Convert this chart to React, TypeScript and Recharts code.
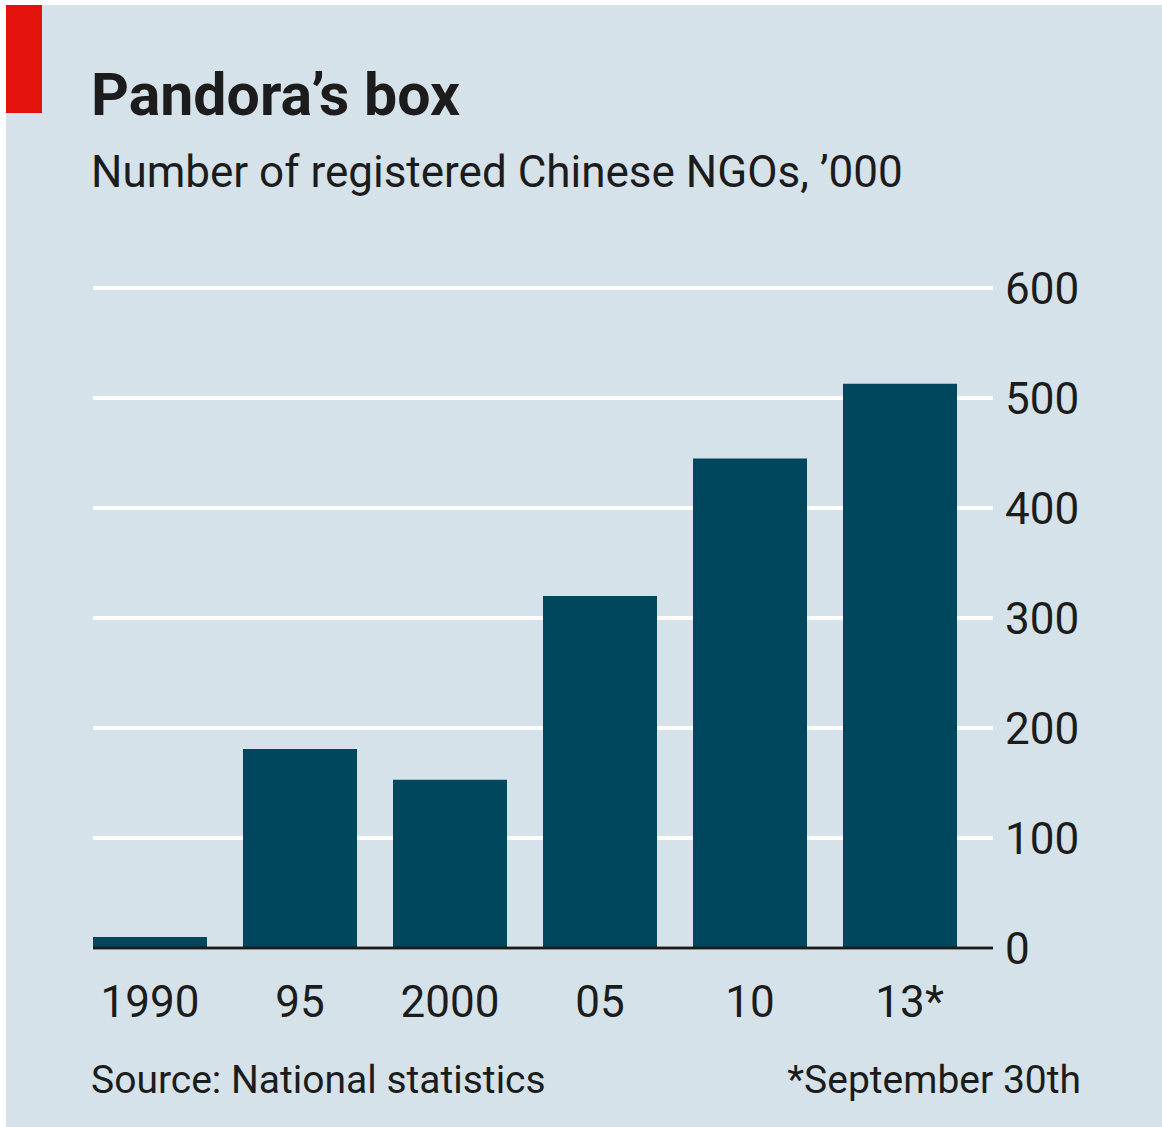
import { BarChart, Bar, XAxis, YAxis, CartesianGrid } from 'recharts'

const years = ['1990', '95', '2000', '05', '10', '13*']
const ngos = [10, 181, 153, 320, 445, 513]
const yTicks = [0, 100, 200, 300, 400, 500, 600]

const data = years.map((year, i) => ({ year, ngos: ngos[i] }))

const BG = '#d5e2e9'
const BAR = '#00475e'
const INK = '#1c1c1c'
const FONT = 'Roboto, "Noto Sans", sans-serif'

// keep a trailing footnote star out of the centring
function YearTick(props: any) {
  const { x, y, payload } = props
  const label: string = payload.value
  const star = label.endsWith('*')
  const main = star ? label.slice(0, -1) : label
  return (
    <g transform={`translate(${x},${y})`}>
      <text x={0} y={0} dy={67} textAnchor="middle" fill={INK} fontSize={44} fontFamily={FONT}>
        {main}
      </text>
      {star && (
        <text x={main.length * 12.5} y={0} dy={67} textAnchor="start" fill={INK} fontSize={44} fontFamily={FONT}>
          *
        </text>
      )}
    </g>
  )
}

export default function App() {
  return (
    <div style={{ position: 'relative', width: 1162, height: 1127, fontFamily: FONT }}>
      <style>{'body{margin:0}'}</style>
      <div style={{ position: 'absolute', left: 6, top: 5, width: 1156, height: 1122, background: BG }} />
      <div style={{ position: 'absolute', left: 6, top: 5, width: 36, height: 108, background: '#e3120b' }} />
      <svg width={1162} height={1127} style={{ position: 'absolute', left: 0, top: 0 }}>
        <text x={91} y={115} fontSize={59} fontWeight={700} fill={INK} fontFamily={FONT}>
          Pandora’s box
        </text>
        <text x={91} y={187} fontSize={44} fill={INK} fontFamily={FONT}>
          Number of registered Chinese NGOs, ’000
        </text>
        <text x={91} y={1093} fontSize={39} fill={INK} fontFamily={FONT}>
          Source: National statistics
        </text>
        <text x={1081} y={1093} fontSize={39} fill={INK} fontFamily={FONT} textAnchor="end">
          *September 30th
        </text>
      </svg>
      <div style={{ position: 'absolute', left: 0, top: 0 }}>
        <BarChart
          width={1162}
          height={1127}
          data={data}
          margin={{ top: 288, right: 0, bottom: 0, left: 93 }}
        >
          <CartesianGrid vertical={false} stroke="#ffffff" strokeWidth={4} />
          <XAxis
            dataKey="year"
            height={179}
            padding={{ left: -18, right: 18 }}
            axisLine={{ stroke: INK, strokeWidth: 3 }}
            tickLine={false}
            tickSize={0}
            tick={<YearTick />}
          />
          <YAxis
            orientation="right"
            domain={[0, 600]}
            ticks={yTicks}
            width={169}
            axisLine={false}
            tickLine={false}
            tickSize={0}
            tickMargin={12}
            tick={{ fill: INK, fontSize: 44, fontFamily: FONT }}
          />
          <Bar dataKey="ngos" fill={BAR} barSize={114} isAnimationActive={false} />
        </BarChart>
      </div>
    </div>
  )
}
